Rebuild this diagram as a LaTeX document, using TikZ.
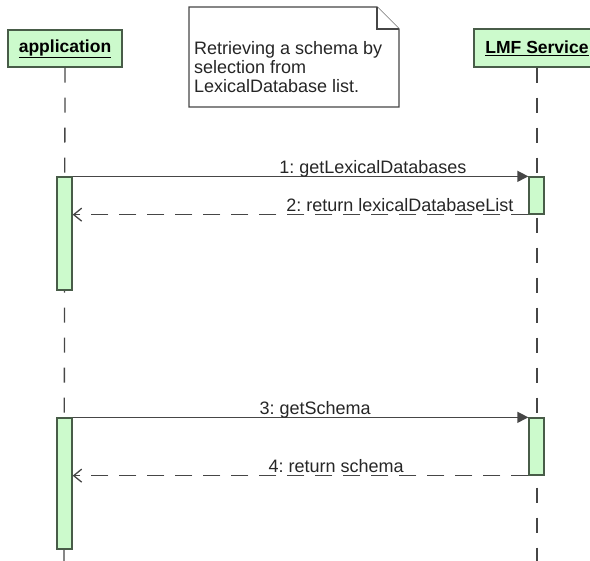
\documentclass[tikz,border=0pt]{standalone}
\usepackage{fontspec}
\setmainfont{Liberation Sans}
\usepackage{xcolor}
\usetikzlibrary{arrows.meta}
\frenchspacing

\definecolor{umlgreen}{RGB}{204,250,204}
\definecolor{umlborder}{RGB}{72,92,72}
\definecolor{umlline}{RGB}{70,70,70}

\tikzset{
  header/.style={draw=umlborder, fill=umlgreen, line width=1.3pt, inner sep=0pt,
    font=\fontsize{17.5}{19}\selectfont\bfseries},
  actbar/.style={draw=umlborder, fill=umlgreen, line width=1.3pt, inner sep=0pt,
    minimum width=15pt},
  lifeline/.style={draw=umlline, line width=1.3pt, dash pattern=on 15pt off 15pt},
  msg/.style={draw=umlline, line width=1.3pt, -{Triangle[length=11pt,width=11pt]}},
  ret/.style={draw=umlline, line width=1.3pt, dash pattern=on 17pt off 11pt,
    -{Straight Barb[length=8pt,width=13pt]}},
  msglabel/.style={anchor=base, yshift=3pt, inner sep=0pt, text=black!85,
    font=\fontsize{18}{19}\selectfont},
  note/.style={draw=umlline, fill=white, line width=1.3pt, line join=miter}
}

\begin{document}
\begin{tikzpicture}[x=1pt,y=-1pt]
% sequence: application asks the LMF Service for a schema
\useasboundingbox (0,0) rectangle (590,561);
\clip (0,0) rectangle (590,561);

\coordinate (appEnd) at (64,561);
\coordinate (lmfEnd) at (537,561);

% participants
\node[header, minimum width=114pt, minimum height=37pt] (app) at (65,48.5) {\underline{application}};
\node[header, minimum width=126pt, minimum height=38pt] (lmf) at (537,48) {\underline{LMF Service}};

\draw[lifeline] (app.south) -- (appEnd);
\draw[lifeline] (lmf.south) -- (lmfEnd);

% note
\draw[note] (189,7) -- (377,7) -- (399,29) -- (399,107) -- (189,107) -- cycle;
\draw[note] (377,7) -- (377,29) -- (399,29);
\node[anchor=north west, align=left, inner sep=0pt, text=black!85, font=\fontsize{18}{19}\selectfont] (noteText) at (194,41)
  {Retrieving a schema by\\selection from\\LexicalDatabase list.};

% activations
\node[actbar, minimum height=113pt] (app1) at (64.5,233.5) {};
\node[actbar, minimum height=37pt] (lmf1) at (536.5,195.5) {};
\node[actbar, minimum height=131pt] (app2) at (64.5,483.5) {};
\node[actbar, minimum height=57pt] (lmf2) at (536.5,446.5) {};

% messages
\draw[msg] (app1.north east) -- node[msglabel, pos=0.659] {1: getLexicalDatabases} (lmf1.north west);
\draw[ret] (lmf1.south west) -- node[msglabel, pos=0.282] {2: return lexicalDatabaseList} (app1.east |- lmf1.south west);

\draw[msg] (app2.north east) -- node[msglabel, pos=0.532] {3: getSchema} (lmf2.north west);
\draw[ret] (lmf2.south west) -- node[msglabel, pos=0.422] {4: return schema} (app2.east |- lmf2.south west);

\end{tikzpicture}
\end{document}
